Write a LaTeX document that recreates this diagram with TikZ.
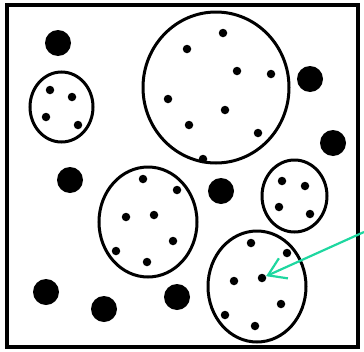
\documentclass[tikz,border=0pt]{standalone}
\usetikzlibrary{arrows.meta}
\definecolor{arrowteal}{RGB}{30,215,160}
\begin{document}
\begin{tikzpicture}[x=1pt,y=-1pt,
  blob/.style={circle,fill=black,inner sep=0pt,minimum size=26pt},
  speck/.style={circle,fill=black,inner sep=0pt,minimum size=8.5pt},
  cell/.style={draw=black,line width=3pt},
  frame/.style={draw=black,line width=3.5pt},
  pointer/.style={draw=arrowteal,line width=2.2pt,-{Straight Barb[length=17pt,width=22pt,line width=2.2pt]}}]
\useasboundingbox (0,0) rectangle (364,351);
\draw[frame] (7,5) rectangle (358,347);
% large blobs
\node[blob] (b1) at (58,43) {};
\node[blob] (b2) at (310,79) {};
\node[blob] (b3) at (333,143) {};
\node[blob] (b4) at (70,180) {};
\node[blob] (b5) at (221,191) {};
\node[blob] (b6) at (46,292) {};
\node[blob] (b7) at (104,309) {};
\node[blob] (b8) at (177,297) {};
% cells
\draw[cell] (61.5,107) ellipse [x radius=31.5pt, y radius=35pt];
\draw[cell] (216,87.5) ellipse [x radius=73pt, y radius=75.5pt];
\draw[cell] (148,222) ellipse [x radius=49pt, y radius=55pt];
\draw[cell] (294.5,196) ellipse [x radius=32.5pt, y radius=36pt];
\draw[cell] (257,286.5) ellipse [x radius=49pt, y radius=55.5pt];
% specks in cell A
\node[speck] (a1) at (50,90) {};
\node[speck] (a2) at (72,97) {};
\node[speck] (a3) at (46,117) {};
\node[speck] (a4) at (78,125) {};
% specks in cell B
\node[speck] (p1) at (223,33) {};
\node[speck] (p2) at (187,49) {};
\node[speck] (p3) at (237,71) {};
\node[speck] (p4) at (271,74) {};
\node[speck] (p5) at (168,99) {};
\node[speck] (p6) at (225,110) {};
\node[speck] (p7) at (189,125) {};
\node[speck] (p8) at (258,133) {};
\node[speck] (p9) at (203,159) {};
% specks in cell C
\node[speck] (c1) at (143,179) {};
\node[speck] (c2) at (177,190) {};
\node[speck] (c3) at (126,217) {};
\node[speck] (c4) at (154,215) {};
\node[speck] (c5) at (173,241) {};
\node[speck] (c6) at (116,251) {};
\node[speck] (c7) at (147,262) {};
% specks in cell D
\node[speck] (d1) at (282,181) {};
\node[speck] (d2) at (305,186) {};
\node[speck] (d3) at (279,207) {};
\node[speck] (d4) at (310,214) {};
% specks in cell E
\node[speck] (e1) at (251,243) {};
\node[speck] (e2) at (287,253) {};
\node[speck] (e3) at (234,281) {};
\node[speck] (e4) at (262,278) {};
\node[speck] (e5) at (281,304) {};
\node[speck] (e6) at (225,315) {};
\node[speck] (e7) at (255,326) {};
% arrow
\coordinate (src) at (364,232);
\draw[pointer] (src) -- (e4);
\end{tikzpicture}
\end{document}
